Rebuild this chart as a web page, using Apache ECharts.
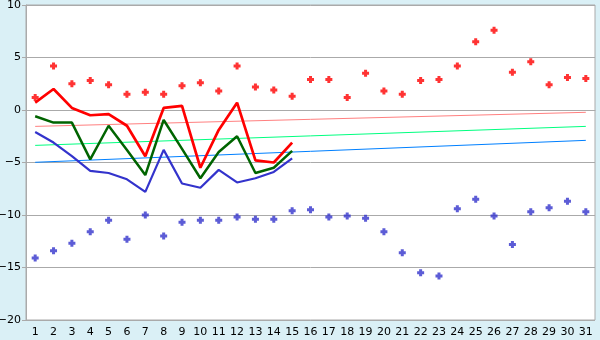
<!DOCTYPE html>
<html><head><meta charset="utf-8">
<script src="https://cdn.jsdelivr.net/npm/echarts@6/dist/echarts.min.js"></script>
<style>html,body{margin:0;padding:0;background:#DAF0F6;}#c{width:600px;height:340px;}</style>
</head><body><div id="c"></div>
<script>
var days = ['1','2','3','4','5','6','7','8','9','10','11','12','13','14','15','16','17','18','19','20','21','22','23','24','25','26','27','28','29','30','31'];
var yTicks = [-20, -15, -10, -5, 0, 5, 10];
var maxDots = [1.2,4.2,2.5,2.8,2.4,1.5,1.7,1.5,2.3,2.6,1.8,4.2,2.2,1.9,1.3,2.9,2.9,1.2,3.5,1.8,1.5,2.8,2.9,4.2,6.5,7.6,3.6,4.6,2.4,3.1,3.0];
var minDots = [-14.1,-13.4,-12.7,-11.6,-10.5,-12.3,-10.0,-12.0,-10.7,-10.5,-10.5,-10.2,-10.4,-10.4,-9.6,-9.5,-10.2,-10.1,-10.3,-11.6,-13.6,-15.5,-15.8,-9.4,-8.5,-10.1,-12.8,-9.7,-9.3,-8.7,-9.7];
var redLine = [0.7,2.0,0.2,-0.5,-0.4,-1.5,-4.4,0.2,0.4,-5.5,-1.9,0.7,-4.8,-5.0,-3.1];
var greenLine = [-0.6,-1.2,-1.2,-4.7,-1.5,-3.8,-6.2,-0.95,-3.7,-6.5,-4.0,-2.5,-6.0,-5.5,-3.9];
var blueLine = [-2.1,-3.1,-4.4,-5.8,-6.0,-6.6,-7.8,-3.8,-7.0,-7.4,-5.7,-6.9,-6.5,-5.9,-4.6];
var salmonTrend = [-1.56, -0.22];
var greenTrend = [-3.37, -1.56];
var blueTrend = [-4.98, -2.89];

function trend(ends){
  var a = days.map(function(){return null;});
  a[0] = ends[0]; a[days.length-1] = ends[1];
  return a;
}
var plus = 'path://M2,0H5V2H7V5H5V7H2V5H0V2H2Z';
var chart = echarts.init(document.getElementById('c'));
chart.setOption({
  animation:false,
  backgroundColor:'#DAF0F6',
  grid:{left:26,right:5,top:5,bottom:20,outerBoundsMode:'none',containLabel:false,show:true,backgroundColor:'#ffffff',borderColor:'#AAAAAA',borderWidth:1},
  xAxis:{type:'category',data:days,boundaryGap:true,
    axisLine:{lineStyle:{color:'#AAAAAA'}},
    axisTick:{alignWithLabel:true,length:5,lineStyle:{color:'#333'}},
    axisLabel:{color:'#000',fontFamily:'DejaVu Sans',fontSize:11,margin:7,interval:0},
    splitLine:{show:false}},
  yAxis:{type:'value',min:yTicks[0],max:yTicks[yTicks.length-1],interval:5,
    axisLine:{show:true,lineStyle:{color:'#AAAAAA'}},
    axisTick:{show:true,length:4,lineStyle:{color:'#AAAAAA'}},
    axisLabel:{color:'#000',fontFamily:'DejaVu Sans',fontSize:11,margin:5,
      formatter:function(v){return String(v).replace('-','\u2212');}},
    splitLine:{show:true,lineStyle:{color:'#AAAAAA',width:1}}},
  series:[
    {type:'line',data:trend(salmonTrend),connectNulls:true,showSymbol:false,lineStyle:{color:'#FF8080',width:1},itemStyle:{color:'#FF8080'},z:1},
    {type:'line',data:trend(greenTrend),connectNulls:true,showSymbol:false,lineStyle:{color:'#00FF80',width:1},itemStyle:{color:'#00FF80'},z:1},
    {type:'line',data:trend(blueTrend),connectNulls:true,showSymbol:false,lineStyle:{color:'#0080FF',width:1},itemStyle:{color:'#0080FF'},z:1},
    {type:'line',data:blueLine,showSymbol:false,lineStyle:{color:'#3333CC',width:2.2},itemStyle:{color:'#3333CC'},z:2},
    {type:'line',data:greenLine,showSymbol:false,lineStyle:{color:'#006400',width:2.5},itemStyle:{color:'#006400'},z:3},
    {type:'line',data:redLine,showSymbol:false,lineStyle:{color:'#FF0000',width:2.7},itemStyle:{color:'#FF0000'},z:4},
    {type:'scatter',data:maxDots,symbol:plus,symbolSize:7,itemStyle:{color:'#FF0000'},z:5},
    {type:'scatter',data:minDots,symbol:plus,symbolSize:7,itemStyle:{color:'#3333CC'},z:5}
  ]
});
</script></body></html>
